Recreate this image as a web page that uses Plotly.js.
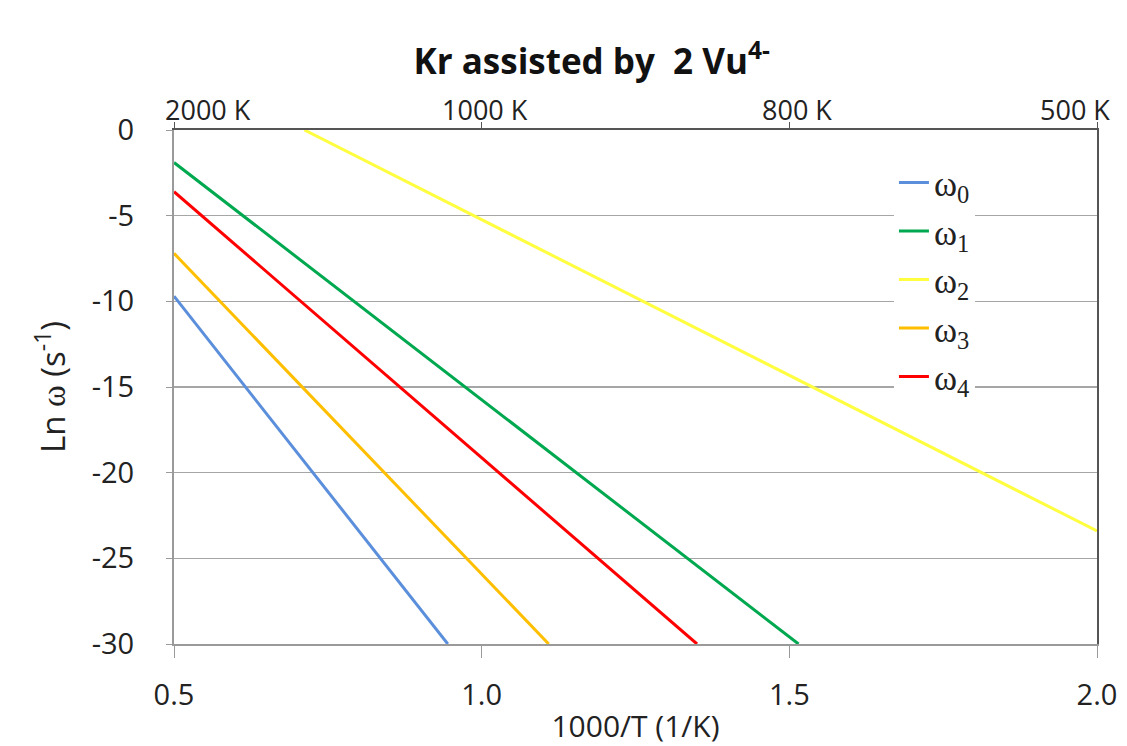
<!DOCTYPE html>
<html>
<head>
<meta charset="utf-8">
<script src="https://cdn.plot.ly/plotly-3.0.1.min.js"></script>
<style>html,body{margin:0;padding:0;background:#fff;}#chart{width:1127px;height:746px;}</style>
</head>
<body>
<div id="chart"></div>
<script>
// Series names
const seriesNames = ["ω<sub>0</sub>", "ω<sub>1</sub>", "ω<sub>2</sub>", "ω<sub>3</sub>", "ω<sub>4</sub>"];
// Endpoints of each straight line (1000/T, Ln ω)
const omega0X = [0.5, 0.945];  const omega0Y = [-9.7, -30];
const omega1X = [0.5, 1.515];  const omega1Y = [-1.9, -30];
const omega2X = [0.712, 2.0];  const omega2Y = [0, -23.4];
const omega3X = [0.5, 1.109];  const omega3Y = [-7.2, -30];
const omega4X = [0.5, 1.35];   const omega4Y = [-3.6, -30];
const colors = ["#5B8FDB", "#00A84F", "#FFFF40", "#FFBF00", "#FF0000"];
// Axis ticks
const bottomTicks = [0.5, 1.0, 1.5, 2.0];
const bottomTickText = ["0.5", "1.0", "1.5", "2.0"];
const topTicks = [0.5, 1.0, 1.5, 2.0];
const topTickText = ["2000 K", "1000 K", "800 K", "500 K"];
const topLabelPos = [0.555, 1.005, 1.513, 1.965];
const yTicks = [0, -5, -10, -15, -20, -25, -30];
const yTickText = ["0", "-5", "-10", "-15", "-20", "-25", "-30"];

const xs = [omega0X, omega1X, omega2X, omega3X, omega4X];
const ys = [omega0Y, omega1Y, omega2Y, omega3Y, omega4Y];
const traces = xs.map((x, i) => ({
  x: x, y: ys[i], type: "scatter", mode: "lines", name: seriesNames[i],
  line: {color: colors[i], width: 3}
}));
traces.push({x: [0.5, 2.0], y: [0, 0], xaxis: "x2", yaxis: "y", mode: "none",
  showlegend: false, hoverinfo: "skip", type: "scatter"});
traces.push({x: [0.5], y: [0], yaxis: "y2", mode: "none", showlegend: false, hoverinfo: "skip", type: "scatter"});

const sans = "Open Sans, Liberation Sans, sans-serif";
const tickFont = {family: sans, size: 29, color: "#222"};

const annotations = topLabelPos.map((p, i) => ({
  x: p, xref: "x2", y: 1, yref: "paper", yanchor: "bottom", yshift: 0,
  text: topTickText[i], showarrow: false, font: {family: sans, size: 27, color: "#222"}
}));

const layout = {
  width: 1127, height: 746,
  margin: {l: 174, r: 30, t: 130, b: 102},
  paper_bgcolor: "#fff", plot_bgcolor: "#fff",
  title: {text: "<b>Kr assisted by  2 Vu<sup>4-</sup></b>", x: 0.525, xanchor: "center",
          y: 0.917, yanchor: "middle",
          font: {family: sans, size: 35, color: "#111"}},
  xaxis: {range: [0.5, 2.0], tickvals: bottomTicks, ticktext: bottomTickText,
          showgrid: false, zeroline: false, showline: true, linecolor: "#9a9a9a", linewidth: 2,
          ticks: "outside", ticklen: 12, tickcolor: "#9a9a9a", tickwidth: 1,
          ticklabelstandoff: 12, tickfont: tickFont,
          title: {text: "1000/T (1/K)", font: {family: sans, size: 30, color: "#222"}, standoff: 18}},
  xaxis2: {range: [0.5, 2.0], overlaying: "x", side: "top", tickvals: topTicks,
           ticktext: ["", "", "", ""], showgrid: false, zeroline: false,
           showline: true, linecolor: "#555", linewidth: 2,
           ticks: "outside", ticklen: 6, tickcolor: "#555", tickwidth: 1},
  yaxis: {range: [-30, 0], tickvals: yTicks, ticktext: yTickText, showgrid: true, gridcolor: "#a6a6a6", gridwidth: 1.5,
          zeroline: false, showline: true, linecolor: "#9a9a9a", linewidth: 2,
          ticks: "outside", ticklen: 6, tickcolor: "#9a9a9a", ticklabelstandoff: 26,
          tickfont: tickFont,
          title: {text: "Ln <span style='font-family:Liberation Serif'>ω</span> (s<sup>-1</sup>)",
                  font: {family: sans, size: 33, color: "#222"}, standoff: 16}},
  yaxis2: {range: [-30, 0], overlaying: "y", side: "right", showline: true, linecolor: "#555",
           linewidth: 2, showticklabels: false, showgrid: false, zeroline: false, ticks: ""},
  showlegend: true,
  legend: {x: 0.78, y: 0.955, xanchor: "left", yanchor: "top", bgcolor: "#fff",
           font: {family: "Liberation Serif, serif", size: 35, color: "#222"},
           itemwidth: 30, tracegroupgap: 0, borderwidth: 0},
  annotations: annotations
};
Plotly.newPlot("chart", traces, layout, {displayModeBar: false, staticPlot: true});
</script>
</body>
</html>
